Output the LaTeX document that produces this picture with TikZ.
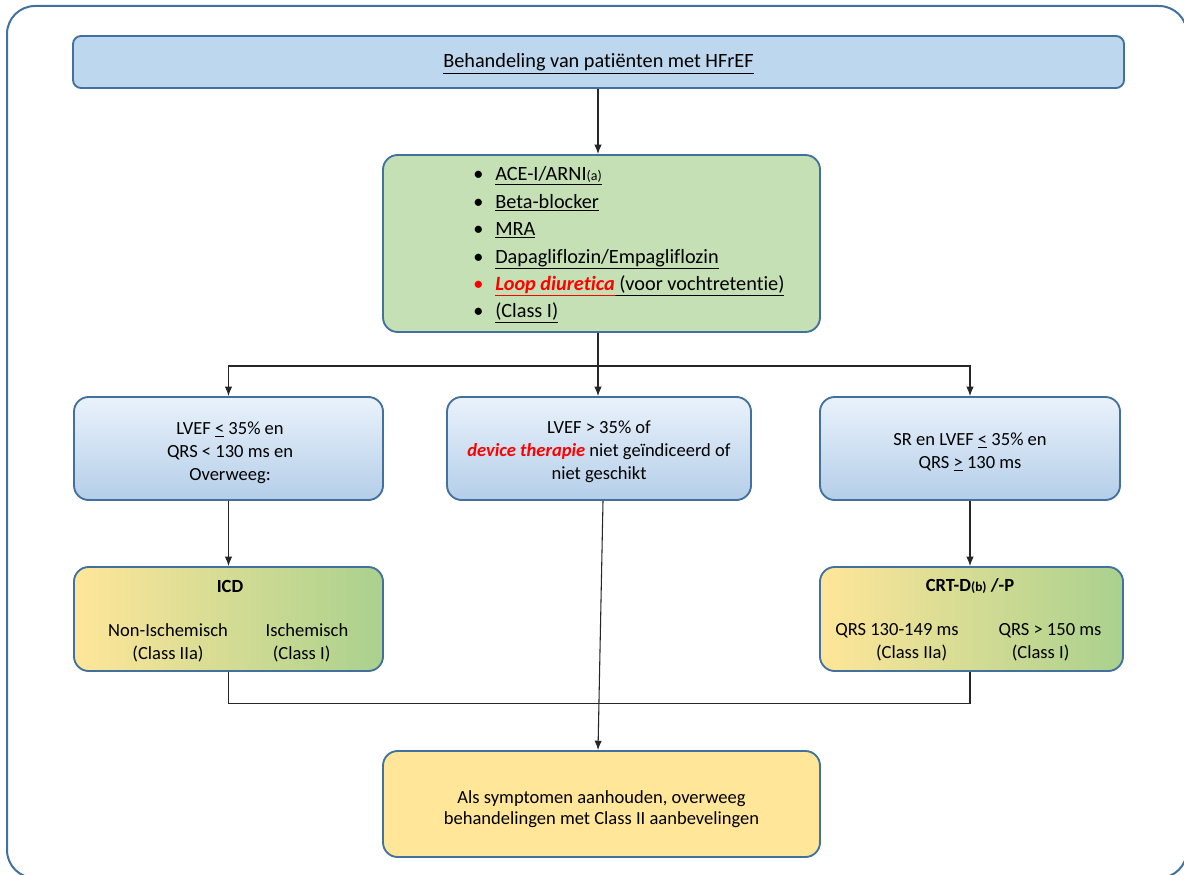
\documentclass[tikz,border=0pt]{standalone}
\usepackage{fontspec}
\setmainfont[Ligatures=NoCommon]{Carlito}
\usetikzlibrary{arrows.meta}
\definecolor{bord}{RGB}{65,113,156}
\definecolor{titlefill}{RGB}{189,215,238}
\definecolor{greenfill}{RGB}{197,224,180}
\definecolor{bluetop}{RGB}{234,242,251}
\definecolor{bluebot}{RGB}{180,206,233}
\definecolor{yel}{RGB}{255,230,153}
\definecolor{grn}{RGB}{169,209,142}
\definecolor{gold}{RGB}{255,230,153}
\definecolor{redtxt}{RGB}{255,0,0}
\tikzset{
  box/.style={draw=bord, line width=1.4pt, rounded corners=11pt, inner sep=0pt, align=center},
  bluebox/.style={box, top color=bluetop, bottom color=bluebot},
  gradbox/.style={box, left color=yel, right color=grn},
  txt/.style={inner sep=0pt, font=\fontsize{13.9}{17.25}\selectfont, align=center},
  arr/.style={draw=black!85, line width=0.8pt, -{Latex[length=7pt,width=5.5pt]}},
  conn/.style={draw=black!85, line width=0.8pt},
}
\begin{document}
\begin{tikzpicture}[x=0.75pt, y=-0.75pt]
\useasboundingbox (0,0) rectangle (1184,874);
\fill[white] (0,0) rectangle (1184,874);
% outer frame
\draw[bord, line width=1.5pt, rounded corners=21pt] (7,6) rectangle (1187,878);

% title
\node[box, rounded corners=6pt, fill=titlefill, minimum width=788.25pt, minimum height=39pt] (title) at (598.5,62) {};
\node[inner sep=0pt, font=\fontsize{15.2}{18}\selectfont] (titlet) at (598.5,64)
      {\underline{Behandeling van patiënten met HFrEF}};

% green box
\node[box, fill=greenfill, minimum width=327.75pt, minimum height=132.75pt] (green) at (601.5,243.5) {};
\node[inner sep=0pt, anchor=west, align=left, font=\fontsize{15.2}{20.55}\selectfont] (list) at (473,245)
{\makebox[16.5pt][l]{•}\underline{ACE-I/ARNI{\fontsize{10.5}{10}\selectfont(a)}}\\
 \makebox[16.5pt][l]{•}\underline{Beta-blocker}\\
 \makebox[16.5pt][l]{•}\underline{MRA}\\
 \makebox[16.5pt][l]{•}\underline{Dapagliflozin/Empagliflozin}\\
 \makebox[16.5pt][l]{\color{redtxt}•}{\color{redtxt}\underline{\textbf{\textit{Loop diuretica}}}}\underline{ (voor vochtretentie)}\\
 \makebox[16.5pt][l]{•}\underline{(Class I)}};

% blue boxes
\node[bluebox, minimum width=231.75pt, minimum height=77.25pt] (lb) at (228.5,448.5) {};
\node[txt] (lbt) at (230,452.5) {LVEF \underline{<} 35\% en\\QRS < 130 ms en\\Overweeg:};
\node[bluebox, minimum width=228pt, minimum height=77.25pt] (mb) at (599,448.5) {};
\node[txt] (mbt) at (599,452) {LVEF > 35\% of\\{\color{redtxt}\textbf{\textit{device therapie}}} niet geïndiceerd of\\niet geschikt};
\node[bluebox, minimum width=225pt, minimum height=77.25pt] (rb) at (970,448.5) {};
\node[txt] (rbt) at (970,452) {SR en LVEF \underline{<} 35\% en\\QRS \underline{>} 130 ms};

% ICD box
\node[gradbox, minimum width=231.75pt, minimum height=78pt] (icd) at (228.5,619) {};
\node[txt, font=\fontsize{13.9}{17.25}\bfseries] (icdt) at (230,586) {ICD};
\node[txt] (icd1) at (168,642.5) {Non-Ischemisch\\(Class IIa)};
\node[txt] (icd2) at (307,642.5) {Ischemisch\\\hspace*{-8pt}(Class I)};

% CRT box
\node[gradbox, minimum width=227.25pt, minimum height=78pt] (crt) at (971.5,619) {};
\node[txt, font=\fontsize{13.9}{17.25}\bfseries] (crtt) at (970,586) {CRT-D{\fontsize{10}{10}\selectfont(b)} /-P};
\node[txt] (crt1) at (897,642.5) {QRS 130-149 ms\\\hspace*{22pt}(Class IIa)};
\node[txt] (crt2) at (1050,642.5) {QRS > 150 ms\\\hspace*{-14pt}(Class I)};

% bottom box
\node[box, fill=gold, minimum width=327.75pt, minimum height=79.5pt] (bot) at (601.5,804) {};
\node[txt, font=\fontsize{13.9}{15.75}\selectfont] (bott) at (601.5,809)
  {Als symptomen aanhouden, overweeg\\behandelingen met Class II aanbevelingen};

% connectors
\coordinate (sp) at (598,366);
\draw[arr] (title.south -| sp) -- (green.north -| sp);
\draw[conn] (green.south -| sp) -- (sp);
\draw[arr] (sp) -| (lb.north);
\draw[arr] (sp) -| (rb.north);
\draw[arr] (sp) -- (mb.north -| sp);
\draw[arr] (lb.south) -- (icd.north);
\draw[arr] (rb.south) -- (rb.south |- crt.north);
\draw[arr] ([xshift=3pt]mb.south) -- (bot.north -| sp);
\draw[conn] (icd.south) -- ++(0,32) -| (rb.south |- crt.south);
\end{tikzpicture}
\end{document}
